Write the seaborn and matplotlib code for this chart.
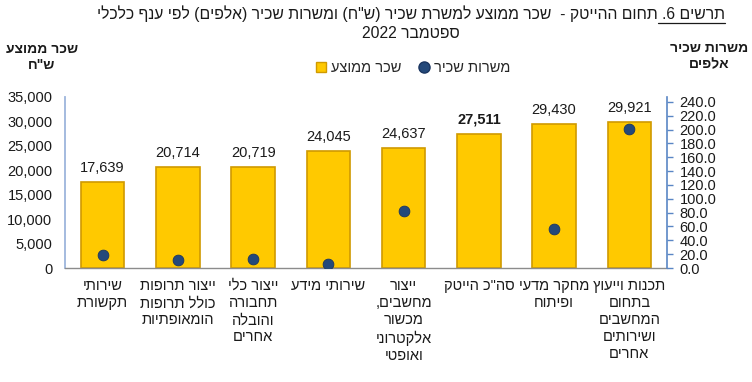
import re
import numpy as np
import pandas as pd
import matplotlib
matplotlib.use("Agg")
import matplotlib.pyplot as plt
from matplotlib.lines import Line2D
import seaborn as sns

# ---------------- data ----------------
categories = [
    "שירותי\nתקשורת",
    "ייצור תרופות\nכולל תרופות\nהומאופתיות",
    "ייצור כלי\nתחבורה\nוהובלה\nאחרים",
    "שירותי מידע",
    "ייצור\nמחשבים,\nמכשור\nאלקטרוני\nואופטי",
    "סה\"כ הייטק",
    "מחקר מדעי\nופיתוח",
    "תכנות וייעוץ\nבתחום\nהמחשבים\nושירותים\nאחרים",
]
avg_salary = [17639, 20714, 20719, 24045, 24637, 27511, 29430, 29921]
jobs_thousands = [19, 11, 13, 6, 82, np.nan, 56, 201]
bold_index = 5

title_line1 = "תרשים 6. תחום ההייטק -  שכר ממוצע למשרת שכיר (ש\"ח) ומשרות שכיר (אלפים) לפי ענף כלכלי"
title_line2 = "ספטמבר 2022"
underlined_part = "תרשים 6. "
left_axis_title = "שכר ממוצע\nש\"ח"
right_axis_title = "משרות שכיר\nאלפים"
legend_salary = "שכר ממוצע"
legend_jobs = "משרות שכיר"


def vis(s):
    """Convert logical RTL Hebrew text to visual (left-to-right) order, line by line."""
    out = []
    for line in s.split("\n"):
        r = line[::-1]
        r = r.translate(str.maketrans("()", ")("))
        r = re.sub(r"[0-9][0-9,.]*[0-9]|[0-9]", lambda m: m.group(0)[::-1], r)
        out.append(r)
    return "\n".join(out)


sns.set_style("white")
plt.rcParams["font.family"] = ["Liberation Sans", "DejaVu Sans"]

BAR = "#FFC900"
BAR_EDGE = "#D09A00"
DOT = "#24497A"
TXT = "#1a1a1a"
FS = 10.5

df = pd.DataFrame({
    "cat": [vis(c) for c in categories],
    "salary": avg_salary,
    "jobs": jobs_thousands,
})

W, H = 752, 382
fig = plt.figure(figsize=(W / 100, H / 100), dpi=100)
ax = fig.add_axes([65 / W, (H - 268) / H, (667 - 65) / W, (268 - 97) / H])

sns.barplot(data=df, x="cat", y="salary", ax=ax, color=BAR, width=0.58,
            edgecolor=BAR_EDGE, linewidth=1.2, saturation=1)
ax.set_ylim(0, 35000)
ax.set_xlim(-0.5, len(categories) - 0.5)
ax.set_yticks(np.arange(0, 35001, 5000))
ax.set_yticklabels([f"{v:,}" for v in range(0, 35001, 5000)], fontsize=FS, color=TXT)
ax.tick_params(axis="y", length=0, pad=9)
ax.tick_params(axis="x", length=0, pad=8)
ax.set_xlabel("")
ax.set_ylabel("")
for lab in ax.get_xticklabels():
    lab.set_fontsize(FS)
    lab.set_color(TXT)
    lab.set_linespacing(1.28)
    lab.set_verticalalignment("top")

labels = ax.bar_label(ax.containers[0],
                      labels=[f"{v:,}" for v in avg_salary],
                      padding=5, fontsize=FS, color=TXT)
labels[bold_index].set_fontweight("bold")

for side in ["top", "right"]:
    ax.spines[side].set_visible(False)
ax.spines["left"].set_color("#9DB5DC")
ax.spines["left"].set_linewidth(1.3)
ax.spines["bottom"].set_color("#8c8c8c")
ax.spines["bottom"].set_linewidth(1.0)

ax2 = ax.twinx()
sns.scatterplot(data=df, x="cat", y="jobs", ax=ax2, color=DOT, s=60,
                edgecolor="#1a3560", linewidth=0.6, zorder=5)
ax2.set_ylim(0, 247)
ax2.set_yticks(np.arange(0, 241, 20))
ax2.set_yticklabels([f"{v:.1f}" for v in range(0, 241, 20)], fontsize=FS, color=TXT)
ax2.tick_params(axis="y", direction="out", length=4, width=1, color="#5A86C5", pad=5)
ax2.set_ylabel("")
ax2.set_xlabel("")
for side in ["top", "left", "bottom"]:
    ax2.spines[side].set_visible(False)
ax2.spines["right"].set_color("#5A86C5")
ax2.spines["right"].set_linewidth(1.2)
ax2.grid(False)
ax.grid(False)

# Titles
TFS = 11.3
t1 = fig.text(411 / W, 1 - 14 / H, vis(title_line1), ha="center", va="center",
              fontsize=TFS, color=TXT)
fig.text(411 / W, 1 - 33 / H, vis(title_line2), ha="center", va="center",
         fontsize=TFS, color=TXT)

fig.text(42 / W, 1 - 57 / H, vis(left_axis_title), ha="center", va="center",
         fontsize=10, fontweight="bold", color=TXT, linespacing=1.15)
fig.text(748 / W, 1 - 56 / H, vis(right_axis_title), ha="right", va="center",
         multialignment="center", fontsize=10, fontweight="bold", color=TXT,
         linespacing=1.15)

# Legend
handles = [
    Line2D([0], [0], marker="s", linestyle="none", markersize=7,
           markerfacecolor=BAR, markeredgecolor=BAR_EDGE),
    Line2D([0], [0], marker="o", linestyle="none", markersize=8,
           markerfacecolor=DOT, markeredgecolor="#1a3560"),
]
fig.legend(handles, [vis(legend_salary), vis(legend_jobs)], loc="center",
           bbox_to_anchor=(412 / W, 1 - 68 / H), ncol=2, frameon=False,
           fontsize=FS, handletextpad=0.2, columnspacing=1.0, handlelength=1.0)

# Underline for "תרשים 6."
fig.canvas.draw()
r = fig.canvas.get_renderer()
bb = t1.get_window_extent(r)
tmp = fig.text(0, 0, vis(underlined_part), fontsize=TFS)
wb = tmp.get_window_extent(r)
tmp.remove()
y_ul = bb.y0 - 1
fig.add_artist(Line2D([(bb.x1 - wb.width) / W, bb.x1 / W], [y_ul / H, y_ul / H],
                      color=TXT, linewidth=0.9, transform=fig.transFigure))

fig.savefig("out.png", dpi=100, facecolor="white")
